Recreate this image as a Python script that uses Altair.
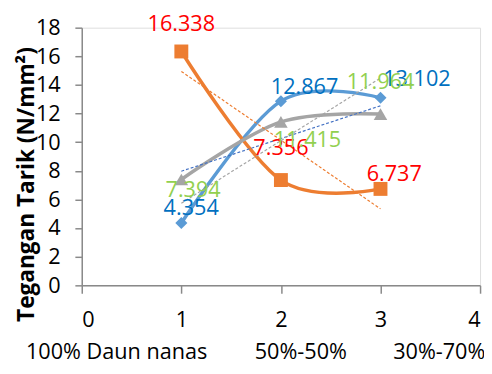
import altair as alt
import pandas as pd

x_vals = [1, 2, 3]
blue_vals = [4.354, 12.867, 13.102]
orange_vals = [16.338, 7.356, 6.737]
gray_vals = [7.394, 11.415, 11.964]
blue_labels = ["4.354", "12.867", "13.102"]
orange_labels = ["16.338", "7.356", "6.737"]
gray_labels = ["7.394", "11.415", "11.964"]
y_ticks = [0, 2, 4, 6, 8, 10, 12, 14, 16, 18]
x_ticks = [0, 1, 2, 3, 4]
cat_names = ["100% Daun nanas", "50%-50%", "30%-70%"]
cat_pos = [0.35, 2.2, 3.59]

rows = []
for s, vals, labs in [("blue", blue_vals, blue_labels), ("orange", orange_vals, orange_labels), ("gray", gray_vals, gray_labels)]:
    for i, (xv, yv, lb) in enumerate(zip(x_vals, vals, labs)):
        rows.append({"series": s, "x": xv, "y": yv, "label": lb, "idx": i})
df = pd.DataFrame(rows)
cats = pd.DataFrame({"name": cat_names, "pos": cat_pos})

FONT = "Open Sans"
FS = 22
xs = alt.Scale(domain=[0, 4], nice=False, zero=False)
ys = alt.Scale(domain=[0, 18], nice=False)

X = alt.X("x:Q", scale=xs, axis=alt.Axis(values=x_ticks, format="d", title=None, grid=False,
          domainColor="#898989", domainWidth=1.5, tickColor="#898989", tickWidth=1.5, tickSize=8,
          labelFont=FONT, labelFontSize=FS, labelColor="#000000", labelPadding=17))
Y = alt.Y("y:Q", scale=ys, axis=alt.Axis(values=y_ticks, grid=False, title="Tegangan Tarik (N/mm²)",
          domainColor="#898989", domainWidth=1.5, tickColor="#898989", tickWidth=1.5, tickSize=7,
          labelFont=FONT, labelFontSize=FS, labelColor="#000000", labelPadding=15,
          titleFont=FONT, titleFontSize=23, titleFontWeight="bold", titleColor="#000000",
          titleX=-44, titleY=159))

line_colors = {"blue": "#5B9BD5", "orange": "#ED7D31", "gray": "#A5A5A5"}
shapes = {"blue": "diamond", "orange": "square", "gray": "triangle-up"}
sizes = {"blue": 150, "orange": 200, "gray": 190}
label_colors = {"blue": "#0070C0", "orange": "#FF0000", "gray": "#92D050"}
trend_colors = {"blue": "#A5A5A5", "orange": "#ED7D31", "gray": "#4472C4"}
offsets = {
    "blue": [(10, -15), (24, -14), (37, -19)],
    "orange": [(0, -28), (0, -32), (14, -15)],
    "gray": [(12, 11), (27, 18), (0, -32)],
}

base = alt.Chart(df)
layers = []
for s in ["blue", "orange", "gray"]:
    sub = base.transform_filter(alt.datum.series == s)
    layers.append(sub.mark_line(interpolate="cardinal", color=line_colors[s], strokeWidth=3.5).encode(x=X, y=Y))
for s in ["blue", "orange", "gray"]:
    sub = base.transform_filter(alt.datum.series == s)
    layers.append(sub.mark_point(shape=shapes[s], filled=True, opacity=1, color=line_colors[s], size=sizes[s]).encode(x=X, y=Y))
for s in ["orange", "gray", "blue"]:
    sub = base.transform_filter(alt.datum.series == s).transform_regression("x", "y", extent=[1, 3])
    layers.append(sub.mark_line(color=trend_colors[s], strokeWidth=1.2, strokeDash=[3, 2]).encode(x=X, y=Y))
for s in ["blue", "orange", "gray"]:
    for i in range(3):
        dx, dy = offsets[s][i]
        sub = base.transform_filter((alt.datum.series == s) & (alt.datum.idx == i))
        layers.append(sub.mark_text(font=FONT, fontSize=FS, color=label_colors[s], dx=dx, dy=dy,
                                    align="center", baseline="middle").encode(x=X, y=Y, text="label:N"))

cat_layer = alt.Chart(cats).mark_text(font=FONT, fontSize=FS, color="#000000", baseline="middle", align="center").encode(
    x=alt.X("pos:Q", scale=xs), y=alt.value(330), text="name:N")
layers.append(cat_layer)

chart = alt.layer(*layers).properties(
    width=405, height=262,
    autosize=alt.AutoSizeParams(type="none"),
    padding={"left": 75, "top": 17, "right": 4, "bottom": 79},
).configure_view(stroke=None).configure(background="#ffffff")

chart.save("out.html", embed_options={"renderer": "svg", "actions": False})
